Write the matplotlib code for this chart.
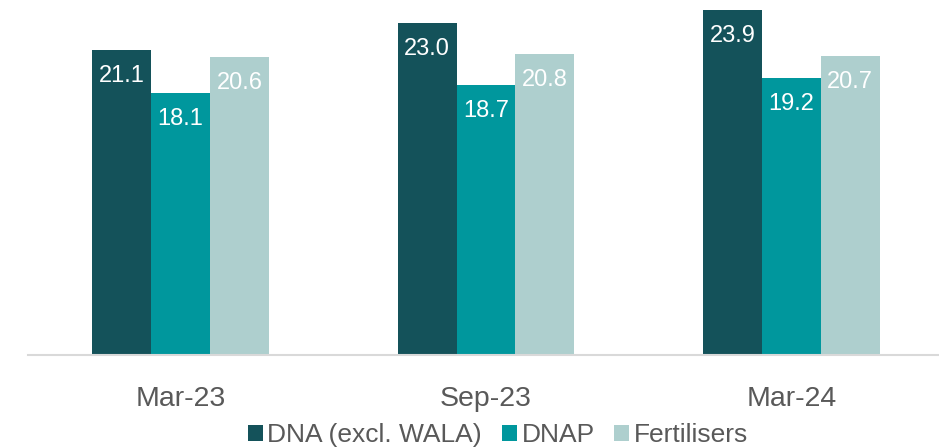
import matplotlib
matplotlib.use("Agg")
import matplotlib.pyplot as plt
import numpy as np

categories = ["Mar-23", "Sep-23", "Mar-24"]
series_names = ["DNA (excl. WALA)", "DNAP", "Fertilisers"]
dna = [21.1, 23.0, 23.9]
dnap = [18.1, 18.7, 19.2]
fert = [20.6, 20.8, 20.7]
colors = ["#14525A", "#00979D", "#AECFCE"]

plt.rcParams['font.family'] = ['Liberation Sans', 'DejaVu Sans']

fig = plt.figure(figsize=(9.39, 4.47), dpi=100)
ax = fig.add_axes([28/939, (447-355)/447, (944-28)/939, 355/447])

x = np.arange(len(categories))
w = 0.193
for i, (vals, name, c) in enumerate(zip([dna, dnap, fert], series_names, colors)):
    pos = x + (i - 1) * w
    bars = ax.bar(pos, vals, width=w, color=c, label=name, zorder=2)
    for b, v in zip(bars, vals):
        ax.annotate(f"{v:.1f}", (b.get_x() + b.get_width()/2, v),
                    xytext=(0, -26), textcoords='offset pixels',
                    ha='center', va='center', color='white', fontsize=17)

ax.set_xlim(-0.5, 2.5)
ax.set_ylim(0, 24.57)
ax.set_yticks([])
ax.set_xticks(x)
ax.set_xticklabels(categories, fontsize=20.5, color='#595959')
ax.tick_params(axis='x', length=0, pad=22)
for s in ['top', 'right', 'left']:
    ax.spines[s].set_visible(False)
ax.spines['bottom'].set_color('#D9D9D9')
ax.spines['bottom'].set_linewidth(1.5)
ax.spines['bottom'].set_zorder(3)

leg = fig.legend(loc='center', bbox_to_anchor=(498/939, 1 - 435/447),
                 ncol=3, frameon=False, fontsize=19,
                 handlelength=0.57, handleheight=0.57, handletextpad=0.17,
                 columnspacing=0.75, borderaxespad=0, borderpad=0)
for t in leg.get_texts():
    t.set_color('#595959')

fig.savefig("out.png", dpi=100)
